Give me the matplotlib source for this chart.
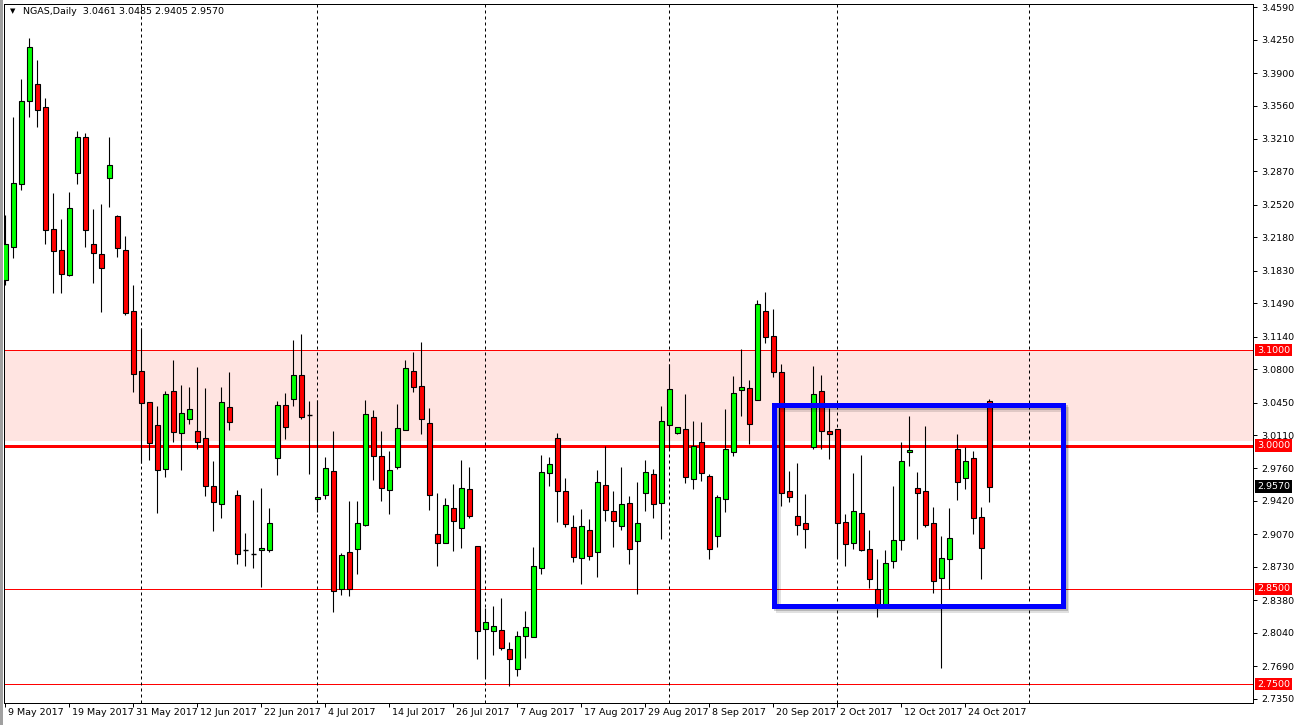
import matplotlib
matplotlib.use("Agg")
import matplotlib.pyplot as plt
from matplotlib.patches import Rectangle
from matplotlib.transforms import blended_transform_factory
import matplotlib.patheffects as pe

# ---------------- data (NGAS, Daily) ----------------
opens = [3.1733, 3.2082, 3.2735, 3.3610, 3.3782, 3.3541, 3.2264, 3.2044, 3.1788, 3.2850,
         3.3227, 3.2107, 3.2002, 3.2801, 3.2403, 3.2047, 3.1405, 3.0777, 3.0452, 3.0212,
         2.9751, 3.0568, 3.0128, 3.0274, 3.0152, 3.0075, 2.9573, 2.9384, 3.0400, 2.9479,
         2.8903, 2.8867, 2.8903, 2.8903, 2.9866, 3.0421, 3.0484, 3.0735, 3.0319, 2.9437,
         2.9479, 2.9730, 2.8501, 2.8882, 2.8919, 2.9171, 3.0295, 2.9887, 2.9537, 2.9778,
         3.0159, 3.0777, 3.0620, 3.0232, 2.9070, 2.8976, 2.9342, 2.9133, 2.9541, 2.8945,
         2.8075, 2.8054, 2.8065, 2.7866, 2.7657, 2.8008, 2.7992, 2.8714, 2.9709, 3.0075,
         2.9520, 2.9150, 2.8819, 2.9112, 2.8882, 2.9583, 2.9311, 2.9154, 2.9395, 2.8997,
         2.9499, 2.9698, 2.9395, 3.0212, 3.0128, 3.0170, 2.9646, 3.0034, 2.9678, 2.9056,
         2.9437, 2.9935, 3.0578, 3.0599, 3.0473, 3.1405, 3.1143, 3.0767, 2.9524, 2.9259,
         2.9185, 2.9981, 3.0568, 3.0152, 3.0170, 2.9202, 2.8976, 2.9290, 2.8913, 2.8494,
         2.8319, 2.8787, 2.9014, 2.9929, 2.9552, 2.9520, 2.9185, 2.8609, 2.8808, 2.9960,
         2.9657, 2.9866, 2.9248, 3.0461]
highs = [3.2414, 3.3437, 3.3835, 3.4267, 3.4037, 3.3636, 3.2641, 3.2369, 3.2651, 3.3293,
         3.3269, 3.2473, 3.2529, 3.3230, 3.2414, 3.2194, 3.1681, 3.1227, 3.0455, 3.0414,
         3.0568, 3.0892, 3.0634, 3.0613, 3.0822, 3.0599, 2.9838, 3.0609, 3.0770, 2.9531,
         2.9081, 2.9426, 2.9552, 2.9342, 3.0466, 3.0547, 3.1105, 3.1168, 3.0466, 3.0473,
         2.9883, 3.0152, 2.8871, 2.9416, 2.9416, 3.0476, 3.0372, 3.0152, 2.9942, 3.0435,
         3.0895, 3.0979, 3.1084, 3.0393, 2.9503, 2.9450, 2.9597, 2.9848, 2.9775, 2.8945,
         2.8298, 2.8319, 2.8403, 2.7939, 2.8054, 2.8267, 2.8937, 2.9901, 2.9876, 3.0128,
         2.9657, 2.9269, 2.9332, 2.9227, 2.9740, 2.9998, 2.9524, 2.9775, 2.9471, 2.9618,
         2.9848, 2.9754, 3.0414, 3.0853, 3.0194, 3.0539, 3.0257, 3.0246, 2.9702, 2.9482,
         3.0379, 3.0725, 3.1010, 3.0686, 3.1524, 3.1607, 3.1429, 3.0850, 2.9733, 2.9817,
         2.9492, 3.0832, 3.0738, 3.0390, 3.0170, 2.9283, 2.9709, 2.9897, 2.9115, 2.8812,
         2.8903, 2.9573, 3.0040, 3.0309, 2.9723, 3.0204, 2.9356, 2.9056, 2.9346, 3.0120,
         2.9984, 2.9942, 2.9356, 3.0485]
lows = [3.1681, 3.1966, 3.2675, 3.3443, 3.3338, 3.2113, 3.1594, 3.1594, 3.1778, 3.2738,
        3.2082, 3.1705, 3.1401, 3.2497, 3.1977, 3.1366, 3.0563, 2.9814, 2.9848, 2.9296,
        2.9673, 3.0037, 2.9743, 3.0222, 2.9960, 2.9474, 2.9108, 2.9244, 3.0165, 2.8762,
        2.8741, 2.8720, 2.8522, 2.8888, 2.9694, 3.0071, 3.0417, 3.0281, 2.9702, 2.9307,
        2.9440, 2.8260, 2.8435, 2.8424, 2.8654, 2.9157, 2.9639, 2.9419, 2.9286, 2.9754,
        3.0159, 3.0560, 3.0124, 2.9328, 2.8741, 2.8976, 2.8898, 2.8930, 2.9238, 2.7768,
        2.7562, 2.7803, 2.7856, 2.7485, 2.7590, 2.7778, 2.7992, 2.8658, 2.9579, 2.9202,
        2.9150, 2.8783, 2.8553, 2.8804, 2.8626, 2.9213, 2.8940, 2.9118, 2.8762, 2.8442,
        2.9317, 2.9238, 2.9024, 2.9953, 3.0120, 2.9604, 2.9548, 2.9631, 2.8808, 2.8940,
        2.9307, 2.9893, 3.0312, 3.0016, 3.0473, 3.1070, 3.0720, 2.9370, 2.9412, 2.9066,
        2.8930, 2.9960, 2.9960, 2.9862, 2.8819, 2.8741, 2.8919, 2.8898, 2.8505, 2.8207,
        2.8309, 2.8717, 2.8901, 2.9789, 2.9024, 2.9150, 2.8459, 2.7667, 2.8497, 2.9433,
        2.9545, 2.9076, 2.8602, 2.9405]
closes = [3.2107, 3.2746, 3.3607, 3.4170, 3.3510, 3.2253, 3.2033, 3.1799, 3.2484, 3.3227,
          3.2253, 3.2013, 3.1862, 3.2937, 3.2065, 3.1384, 3.0746, 3.0442, 3.0023, 2.9743,
          3.0536, 3.0138, 3.0337, 3.0379, 3.0034, 2.9576, 2.9412, 3.0452, 3.0243, 2.8861,
          2.8903, 2.8867, 2.8924, 2.9185, 3.0421, 3.0197, 3.0735, 3.0302, 3.0319, 2.9458,
          2.9761, 2.8473, 2.8850, 2.8494, 2.9185, 3.0327, 2.9893, 2.9558, 2.9740, 3.0180,
          3.0808, 3.0616, 3.0274, 2.9479, 2.8976, 2.9374, 2.9206, 2.9552, 2.9262, 2.8054,
          2.8149, 2.8107, 2.7876, 2.7761, 2.8002, 2.8096, 2.8735, 2.9719, 2.9803, 2.9520,
          2.9181, 2.8829, 2.9154, 2.8846, 2.9615, 2.9321, 2.9206, 2.9384, 2.8913, 2.9185,
          2.9719, 2.9384, 3.0257, 3.0588, 3.0191, 2.9667, 2.9998, 2.9709, 2.8913, 2.9458,
          2.9960, 3.0547, 3.0609, 3.0222, 3.1479, 3.1133, 3.0767, 2.9499, 2.9458, 2.9164,
          2.9123, 3.0536, 3.0149, 3.0120, 2.9185, 2.8965, 2.9311, 2.8909, 2.8599, 2.8330,
          2.8770, 2.9007, 2.9836, 2.9950, 2.9499, 2.9171, 2.8578, 2.8819, 2.9028, 2.9615,
          2.9838, 2.9238, 2.8924, 2.9570]

date_labels = ["9 May 2017", "19 May 2017", "31 May 2017", "12 Jun 2017", "22 Jun 2017",
               "4 Jul 2017", "14 Jul 2017", "26 Jul 2017", "7 Aug 2017", "17 Aug 2017",
               "29 Aug 2017", "8 Sep 2017", "20 Sep 2017", "2 Oct 2017", "12 Oct 2017",
               "24 Oct 2017"]
date_label_bars = [0, 8, 16, 24, 32, 40, 48, 56, 64, 72, 80, 88, 96, 104, 112, 120]
month_start_bars = [17, 39, 60, 83, 104, 128]

price_ticks = [3.4590, 3.4250, 3.3900, 3.3560, 3.3210, 3.2870, 3.2520, 3.2180, 3.1830,
               3.1490, 3.1140, 3.0800, 3.0450, 3.0110, 2.9760, 2.9420, 2.9070, 2.8730,
               2.8380, 2.8040, 2.7690, 2.7350]

zone_top = 3.1000
zone_bottom = 3.0050
level_lines = [3.1000, 3.0000, 2.8500, 2.7500]
level_widths = [1.0, 3.0, 1.0, 1.0]
red_labels = [3.1000, 3.0000, 2.8500, 2.7500]
last_price = 2.9570

box_bars = (96.05, 132.15)
box_prices = (2.8319, 3.0424)

title = "NGAS,Daily  3.0461 3.0485 2.9405 2.9570"

# ---------------- figure ----------------
W, H = 1296, 725
fig = plt.figure(figsize=(W / 100, H / 100), dpi=100)
fig.patch.set_facecolor("white")
L, R, T, B = 4, 1253, 4, 703
ax = fig.add_axes([L / W, 1 - B / H, (R - L) / W, (B - T) / H])
ax.set_facecolor("white")
px = 0.72  # one pixel in points
FONT = "DejaVu Sans"
FS = 6.8

ax.set_xlim(-0.16, 155.96)
ax.set_ylim(2.7304, 3.4623)

# resistance zone and levels
ax.axhspan(zone_bottom, zone_top, color="#FFE4E1", zorder=0, lw=0)
for lv, lw in zip(level_lines, level_widths):
    ax.axhline(lv, color="#FF0000", lw=lw * px, zorder=1)

# month separators
for b in month_start_bars:
    ax.axvline(b, color="black", lw=px, ls=(0, (3, 3)), zorder=1)

# candles
bw = 0.56
for i, (o, h, l, c) in enumerate(zip(opens, highs, lows, closes)):
    ax.vlines(i, l, h, color="black", lw=px * 1.1, zorder=3)
    if abs(c - o) < 0.0004:
        ax.hlines(o, i - bw / 2, i + bw / 2, color="black", lw=1.4 * px, zorder=4)
        continue
    col = "#00FF00" if c > o else "#FF0000"
    ax.add_patch(Rectangle((i - bw / 2, min(o, c)), bw, abs(c - o), facecolor=col,
                           edgecolor="black", lw=1.1 * px, zorder=4))

# blue box with a soft shadow
rect = Rectangle((box_bars[0], box_prices[0]), box_bars[1] - box_bars[0],
                 box_prices[1] - box_prices[0], fill=False, edgecolor="#0000FF",
                 lw=5 * px, joinstyle="miter", zorder=6)
rect.set_path_effects([
    pe.SimpleLineShadow(offset=(2.8, -2.8), shadow_color="black", alpha=0.12),
    pe.SimpleLineShadow(offset=(1.6, -1.6), shadow_color="black", alpha=0.18),
    pe.Normal()])
ax.add_patch(rect)

# axes / ticks
for s in ["left", "top", "right", "bottom"]:
    ax.spines[s].set_linewidth(px)
    ax.spines[s].set_color("black")
ax.yaxis.tick_right()
ax.set_yticks(price_ticks)
ax.set_yticklabels([f"{p:.4f}" for p in price_ticks], fontsize=FS, family=FONT)
ax.tick_params(axis="y", direction="out", length=3, width=px, pad=3)
ax.set_xticks(date_label_bars)
ax.set_xticklabels([])
ax.tick_params(axis="x", direction="out", length=3, width=px)

bt = blended_transform_factory(ax.transData, ax.transAxes)
for b, lab in zip(date_label_bars, date_labels):
    ax.annotate(lab, xy=(b, 0), xycoords=bt, xytext=(2, -3.5), textcoords="offset points",
                ha="left", va="top", fontsize=FS, family=FONT, annotation_clip=False)

# highlighted price labels on the right axis
rt = blended_transform_factory(ax.transAxes, ax.transData)
for p in red_labels:
    ax.annotate(f"{p:.4f}", xy=(1, p), xycoords=rt, xytext=(3, 0),
                textcoords="offset points", ha="left", va="center", fontsize=FS,
                family=FONT, color="white", annotation_clip=False, zorder=10,
                bbox=dict(boxstyle="square,pad=0.18", fc="#FF0000", ec="none"))
ax.annotate(f"{last_price:.4f}", xy=(1, last_price), xycoords=rt, xytext=(3, 0),
            textcoords="offset points", ha="left", va="center", fontsize=FS,
            family=FONT, color="white", annotation_clip=False, zorder=10,
            bbox=dict(boxstyle="square,pad=0.18", fc="black", ec="none"))

# title
ax.annotate("\u25BC", xy=(0, 1), xycoords="axes fraction", xytext=(4, -3),
            textcoords="offset points", ha="left", va="top", fontsize=5, family=FONT)
ax.annotate(title, xy=(0, 1), xycoords="axes fraction", xytext=(14, -2.5),
            textcoords="offset points", ha="left", va="top", fontsize=FS, family=FONT)

# window edge at the left
fig.patches.append(Rectangle((0, 0), 2.5 / W, 1, transform=fig.transFigure,
                             facecolor="#A0A0A0", edgecolor="none"))

fig.savefig("out.png", dpi=100)
